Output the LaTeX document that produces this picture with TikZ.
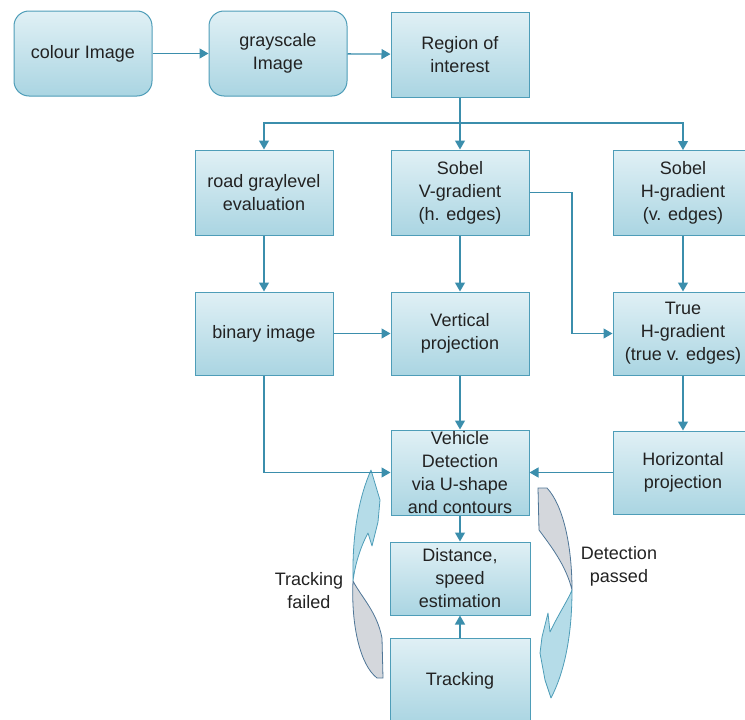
\documentclass[tikz,border=0pt]{standalone}
\usepackage{fontspec}
\setmainfont{Liberation Sans}
\usetikzlibrary{arrows.meta}
\definecolor{boxtop}{HTML}{E0F0F5}
\definecolor{boxbot}{HTML}{AAD5E2}
\definecolor{boxline}{HTML}{4E9DB8}
\definecolor{flowcol}{HTML}{3B8EAC}
\definecolor{bandfront}{HTML}{B5DCE8}
\definecolor{bandback}{HTML}{D4D7DC}
\definecolor{bandedge}{HTML}{4F7697}
\definecolor{ink}{HTML}{222222}

\begin{document}
\begin{tikzpicture}[x=1pt,y=-1pt,
  box/.style={draw=boxline, line width=1pt, top color=boxtop, bottom color=boxbot,
    minimum width=138pt, minimum height=85pt, inner sep=0pt, align=center,
    font=\fontsize{18}{23}\selectfont, text=ink},
  rbox/.style={box, rounded corners=15pt},
  flow/.style={draw=flowcol, line width=1.3pt, -{Triangle[length=9pt,width=10pt]}},
  plain/.style={draw=flowcol, line width=1.3pt},
  front/.style={fill=bandfront, draw=boxline, line width=0.8pt, line join=round},
  back/.style={fill=bandback, draw=bandedge, line width=0.8pt, line join=round},
  lbl/.style={align=center, inner sep=0pt, font=\fontsize{18}{23}\selectfont, text=ink}
]
\useasboundingbox (0,0) rectangle (745,720);
\clip (0,0) rectangle (745,720);

% top row
\node[rbox] (colour) at (83,53.5) {colour Image};
\node[rbox] (gray) at (278,53.5) {grayscale\\Image};
\node[box] (roi) at (460,54.5) {Region of\\interest};

% second row
\node[box] (road) at (264,192.5) {road graylevel\\evaluation};
\node[box] (sobv) at (460,192.5) {Sobel\\V-gradient\\(h. edges)};
\node[box, minimum width=140pt] (sobh) at (683,193) {Sobel\\H-gradient\\(v. edges)};

% third row
\node[box, minimum height=83pt] (binary) at (264,333.5) {binary image};
\node[box, minimum height=83pt] (vproj) at (460,333.5) {Vertical\\projection};
\node[box, minimum height=83pt, minimum width=140pt] (trueh) at (683,333.5) {True\\H-gradient\\(true v. edges)};

% detection, estimation, tracking
\node[box] (vehicle) at (460,472.5) {Vehicle\\Detection\\via U-shape\\and contours};
\node[box, minimum height=83pt, minimum width=140pt] (hproj) at (683,472.5) {Horizontal\\projection};
\node[box, minimum width=140pt, minimum height=73pt] (dist) at (460,578.5) {Distance,\\speed\\estimation};
\node[box, minimum width=140pt, minimum height=86pt] (track) at (460,681) {Tracking};

% curved band: tracking failed
\filldraw[back] (353,581) .. controls (351,625) and (360,665) .. (377,678)
  -- (383,678) -- (382,638) .. controls (377,612) and (362,598) .. (353,581) -- cycle;
\filldraw[front] (353,581) .. controls (352,530) and (360,495) .. (371,470)
  -- (380,500) -- (378,522) -- (372,546) -- (368,533)
  .. controls (360,548) and (355,565) .. (353,581) -- cycle;

% curved band: detection passed
\filldraw[back] (538,488) -- (547,488) .. controls (563,505) and (572,545) .. (572,590)
  .. controls (566,565) and (550,545) .. (539,530) -- cycle;
\filldraw[front] (572,590) .. controls (572,640) and (563,675) .. (551,698)
  -- (545,680) -- (540,653) -- (542,637) -- (548,613) -- (550,632)
  .. controls (558,615) and (568,600) .. (572,590) -- cycle;

\node[lbl] (failed) at (309,591) {Tracking\\failed};
\node[lbl] (passed) at (619,566) {Detection\\passed};

% connectors
\coordinate (split) at (460,123);
\coordinate (bend) at (572,333.5);
\draw[flow] (colour) -- (gray);
\draw[flow] (gray) -- (roi);
\draw[plain] (roi) -- (split);
\draw[flow] (split) -| (road);
\draw[flow] (split) -- (sobv);
\draw[flow] (split) -| (sobh);
\draw[flow] (road) -- (binary);
\draw[flow] (sobv) -- (vproj);
\draw[flow] (sobh) -- (trueh);
\draw[flow] (sobv.east) -| (bend) -- (trueh.west);
\draw[flow] (binary) -- (vproj);
\draw[flow] (trueh) -- (hproj);
\draw[flow] (vproj) -- (vehicle);
\draw[flow] (binary.south) |- (vehicle.west);
\draw[flow] (hproj) -- (vehicle);
\draw[flow] (vehicle) -- (dist);
\draw[flow] (track) -- (dist);
\end{tikzpicture}
\end{document}
